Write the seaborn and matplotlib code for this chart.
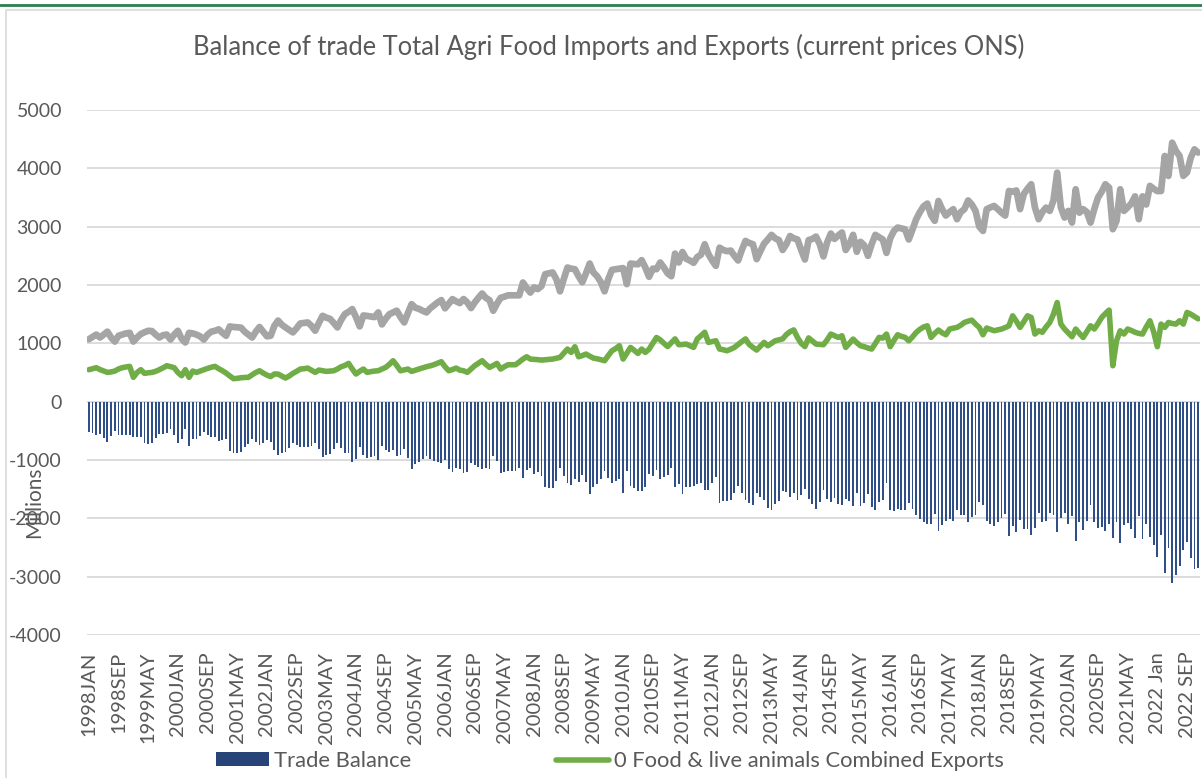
import numpy as np
import pandas as pd
import matplotlib
matplotlib.use("Agg")
import matplotlib.pyplot as plt
import seaborn as sns
from matplotlib.patches import Patch, Rectangle
from matplotlib.lines import Line2D

# monthly values, Jan 1998 .. Dec 2022 (GBP millions)
imports = [
    1070, 1110, 1150, 1100, 1150, 1200, 1100, 1030, 1130, 1150, 1170, 1180,  # 1998
    1030, 1100, 1160, 1190, 1215, 1210, 1150, 1100, 1140, 1150, 1065, 1150,  # 1999
    1215, 1080, 1015, 1180, 1170, 1150, 1120, 1065, 1150, 1200, 1215, 1240,  # 2000
    1180, 1130, 1290, 1280, 1275, 1270, 1200, 1150, 1100, 1200, 1280, 1200,  # 2001
    1120, 1130, 1300, 1390, 1320, 1273, 1230, 1187, 1260, 1341, 1350, 1358,  # 2002
    1300, 1216, 1350, 1472, 1440, 1420, 1350, 1273, 1400, 1501, 1540, 1587,  # 2003
    1450, 1290, 1478, 1470, 1460, 1450, 1530, 1324, 1420, 1500, 1530, 1560,  # 2004
    1450, 1358, 1520, 1672, 1610, 1590, 1558, 1530, 1600, 1650, 1700, 1741,  # 2005
    1600, 1680, 1758, 1720, 1690, 1760, 1700, 1604, 1700, 1780, 1854, 1780,  # 2006
    1740, 1558, 1680, 1780, 1800, 1823, 1823, 1823, 1823, 2043, 1950, 1870,  # 2007
    1960, 1930, 1980, 2186, 2200, 2215, 2100, 1891, 2100, 2300, 2280, 2270,  # 2008
    2150, 2047, 2200, 2368, 2215, 2150, 2050, 1891, 2100, 2260, 2270, 2280,  # 2009
    2290, 2015, 2368, 2360, 2355, 2426, 2300, 2140, 2280, 2271, 2386, 2300,  # 2010
    2200, 2150, 2539, 2386, 2566, 2450, 2420, 2380, 2480, 2520, 2699, 2530,  # 2011
    2420, 2328, 2640, 2600, 2580, 2590, 2500, 2420, 2600, 2756, 2720, 2700,  # 2012
    2443, 2580, 2710, 2780, 2859, 2800, 2770, 2600, 2700, 2840, 2800, 2780,  # 2013
    2600, 2437, 2770, 2790, 2830, 2700, 2490, 2730, 2882, 2790, 2850, 2900,  # 2014
    2600, 2700, 2860, 2570, 2740, 2680, 2500, 2700, 2860, 2820, 2780, 2550,  # 2015
    2800, 2927, 2985, 2970, 2955, 2780, 2950, 3128, 3250, 3350, 3396, 3200,  # 2016
    3100, 3441, 3300, 3190, 3250, 3300, 3128, 3250, 3300, 3450, 3380, 3270,  # 2017
    3000, 2927, 3300, 3330, 3355, 3300, 3240, 3190, 3612, 3600, 3620, 3300,  # 2018
    3560, 3650, 3727, 3330, 3128, 3250, 3327, 3270, 3450, 3926, 3327, 3156,  # 2019
    3270, 3070, 3641, 3240, 3300, 3250, 3070, 3300, 3498, 3600, 3727, 3670,  # 2020
    2956, 3100, 3641, 3270, 3330, 3400, 3520, 3128, 3520, 3380, 3700, 3650,  # 2021
    3610, 3610, 4212, 3870, 4440, 4300, 4212, 3870, 3930, 4180, 4326, 4270,  # 2022
]

exports = [
    548, 565, 582, 550, 525, 502, 510, 525, 560, 582, 595, 605,  # 1998
    417, 500, 548, 485, 495, 502, 520, 548, 580, 616, 600, 582,  # 1999
    500, 445, 548, 417, 525, 502, 525, 548, 570, 590, 605, 565,  # 2000
    530, 490, 440, 394, 400, 410, 415, 417, 460, 500, 530, 490,  # 2001
    456, 430, 474, 473, 440, 405, 440, 485, 520, 559, 565, 576,  # 2002
    540, 502, 542, 530, 519, 525, 530, 560, 599, 620, 656, 560,  # 2003
    474, 520, 559, 502, 515, 525, 530, 560, 588, 640, 702, 620,  # 2004
    530, 545, 559, 519, 540, 559, 580, 599, 615, 633, 660, 685,  # 2005
    600, 530, 550, 576, 540, 530, 502, 560, 616, 660, 702, 640,  # 2006
    588, 620, 656, 559, 600, 633, 633, 633, 680, 730, 770, 730,  # 2007
    725, 720, 713, 718, 725, 730, 745, 759, 830, 902, 845, 942,  # 2008
    770, 790, 816, 780, 747, 735, 720, 702, 790, 873, 910, 959,  # 2009
    730, 830, 930, 880, 827, 902, 845, 900, 1000, 1100, 1060, 1000,  # 2010
    945, 1010, 1076, 977, 980, 988, 960, 930, 1076, 1130, 1190, 1016,  # 2011
    1030, 1044, 902, 890, 873, 900, 930, 980, 1030, 1076, 980, 930,  # 2012
    885, 950, 1016, 959, 1000, 1044, 1060, 1076, 1150, 1200, 1230, 1100,  # 2013
    1000, 945, 1093, 1040, 988, 982, 977, 1060, 1159, 1130, 1101, 1130,  # 2014
    930, 1000, 1073, 1010, 959, 942, 920, 902, 1000, 1102, 1090, 1159,  # 2015
    942, 1050, 1147, 1120, 1102, 1044, 1110, 1187, 1240, 1280, 1301, 1102,  # 2016
    1170, 1228, 1180, 1147, 1245, 1260, 1273, 1310, 1358, 1380, 1398, 1330,  # 2017
    1273, 1147, 1262, 1240, 1216, 1230, 1245, 1270, 1301, 1472, 1380, 1273,  # 2018
    1370, 1472, 1444, 1159, 1215, 1190, 1280, 1358, 1500, 1700, 1330, 1245,  # 2019
    1180, 1113, 1245, 1170, 1100, 1200, 1301, 1245, 1340, 1444, 1510, 1570,  # 2020
    616, 1044, 1215, 1159, 1245, 1220, 1190, 1170, 1159, 1280, 1387, 1200,  # 2021
    942, 1330, 1273, 1358, 1340, 1330, 1387, 1330, 1530, 1500, 1460, 1420,  # 2022
]

tick_labels = [
    "1998JAN", "1998SEP", "1999MAY", "2000JAN", "2000SEP", "2001MAY",
    "2002JAN", "2002SEP", "2003MAY", "2004JAN", "2004SEP", "2005MAY",
    "2006JAN", "2006SEP", "2007MAY", "2008JAN", "2008SEP", "2009MAY",
    "2010JAN", "2010SEP", "2011MAY", "2012JAN", "2012SEP", "2013MAY",
    "2014JAN", "2014SEP", "2015MAY", "2016JAN", "2016SEP", "2017MAY",
    "2018JAN", "2018SEP", "2019MAY", "2020JAN", "2020SEP", "2021MAY",
    "2022 Jan", "2022 SEP",
]

months = np.arange(len(imports))
# trade balance = exports - imports
balance = np.array(exports) - np.array(imports)
df = pd.DataFrame({"month": months, "imports": imports,
                   "exports": exports, "balance": balance})

sns.set_style("white")
plt.rcParams["font.family"] = ["Lato", "DejaVu Sans"]
text_col = "#595959"

fig = plt.figure(figsize=(12.02, 7.78), dpi=100)
ax = fig.add_axes([87 / 1202, 1 - 635 / 778, 1113 / 1202, 525 / 778])

sns.barplot(data=df, x="month", y="balance", native_scale=True, color="#2F4F86",
            saturation=1, width=0.5, errorbar=None, ax=ax, zorder=2, linewidth=0)
sns.lineplot(data=df, x="month", y="imports", color="#A5A5A5", lw=4.8,
             errorbar=None, ax=ax, zorder=3)
sns.lineplot(data=df, x="month", y="exports", color="#70AD47", lw=4.0,
             errorbar=None, ax=ax, zorder=4)

ax.set_xlim(-0.5, len(months) - 0.5)
ax.set_ylim(-4000, 5000)
ax.set_yticks(range(-4000, 5001, 1000))
ax.set_yticklabels([str(v) for v in range(-4000, 5001, 1000)])
ax.set_xticks(months[::8])
ax.set_xticklabels(tick_labels, rotation=90)
ax.tick_params(axis="x", length=0, pad=12, labelsize=14.5, labelcolor=text_col)
ax.tick_params(axis="y", length=0, pad=18, labelsize=14, labelcolor=text_col)
ax.yaxis.grid(True, color="#D9D9D9", lw=1.3)
ax.set_axisbelow(True)
ax.set_xlabel("")
ax.set_ylabel("")
for s in ax.spines.values():
    s.set_visible(False)

fig.text(34 / 1202, 1 - 502 / 778, "Millions", rotation=90, ha="center",
         va="center", fontsize=15, color=text_col)
fig.text(609 / 1202, 1 - 47 / 778,
         "Balance of trade Total Agri Food Imports and Exports (current prices ONS)",
         ha="center", va="center", fontsize=18.4, color=text_col)

handles = [Patch(facecolor="#264478", edgecolor="none"),
           Line2D([0], [0], color="#70AD47", lw=4.0)]
fig.legend(handles, ["Trade Balance", "0 Food & live animals Combined Exports"],
           loc="center", bbox_to_anchor=(610 / 1202, 1 - 761 / 778), ncol=2,
           frameon=False, fontsize=15.8, handlelength=2.4, handleheight=0.6,
           columnspacing=6.6, handletextpad=0.25, labelcolor=text_col)

# chart frame and top rule
fig.add_artist(Line2D([0, 1], [1 - 5 / 778] * 2, transform=fig.transFigure,
                      color="#2E7D4F", lw=2))
fig.add_artist(Rectangle((6 / 1202, -0.01), 1.1, 1 - 10 / 778 + 0.01,
                         transform=fig.transFigure, fill=False,
                         edgecolor="#D9D9D9", lw=1.2))

fig.savefig("out.png", dpi=100)
